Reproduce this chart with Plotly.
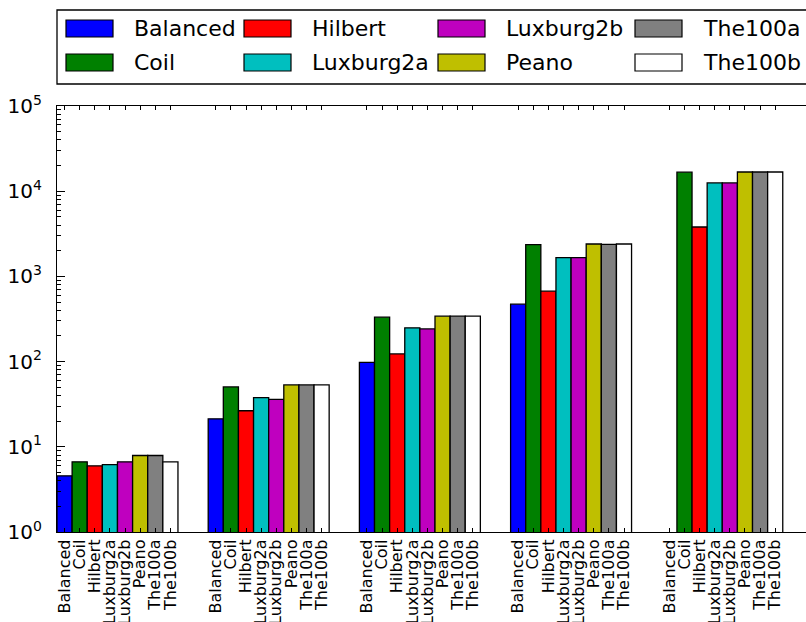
import plotly.graph_objects as go

series = ["Balanced", "Coil", "Hilbert", "Luxburg2a", "Luxburg2b", "Peano", "The100a", "The100b"]
colors = ["#0000ff", "#008000", "#ff0000", "#00bfbf", "#bf00bf", "#bfbf00", "#808080", "#ffffff"]
groups = [0, 1, 2, 3, 4]

values = {
    "Balanced":  [4.56, 21.3, 98, 472, None],
    "Coil":      [6.66, 50.4, 332, 2360, 16700],
    "Hilbert":   [5.98, 26.5, 123, 671, 3800],
    "Luxburg2a": [6.19, 37.7, 249, 1660, 12500],
    "Luxburg2b": [6.66, 36.1, 242, 1660, 12500],
    "Peano":     [7.9, 53.2, 341, 2400, 16800],
    "The100a":   [7.9, 53.2, 341, 2380, 16800],
    "The100b":   [6.66, 53.2, 341, 2400, 16800],
}

ytick_exps = [0, 1, 2, 3, 4, 5]

bar_w = 0.1
font = "DejaVu Sans"

W, H = 806, 622
L, R, T, B = 57, 0, 106, 90
PW, PH = W - L - R, H - T - B


def px_x(px):
    return (px - L) / PW


def px_y(py):
    return (H - B - py) / PH


fig = go.Figure()
for j, name in enumerate(series):
    xs = [g + j * bar_w + bar_w / 2 for g in groups]
    fig.add_trace(go.Bar(
        x=xs, y=values[name], width=bar_w, name=name, showlegend=False,
        marker=dict(color=colors[j], line=dict(color="black", width=1.3)),
    ))

tickvals = [g + j * bar_w + bar_w / 2 for g in groups for j in range(len(series))]
ticktext = [s for g in groups for s in series]

minor_vals = [m * 10 ** e for e in range(5) for m in range(2, 10)]

# legend (drawn as a framed 4-column, 2-row key like the original)
shapes = [dict(type="rect", xref="paper", yref="paper",
               x0=px_x(57), x1=px_x(815), y0=px_y(84), y1=px_y(10),
               line=dict(color="black", width=1.3), fillcolor="white", layer="above")]
annotations = []
col_x = [66, 244, 438, 635]
row_y = [20, 54]
sw_w, sw_h = 47, 17
for k, name in enumerate(series):
    cx = col_x[k // 2]
    ry = row_y[k % 2]
    shapes.append(dict(type="rect", xref="paper", yref="paper",
                       x0=px_x(cx), x1=px_x(cx + sw_w), y0=px_y(ry + sw_h), y1=px_y(ry),
                       line=dict(color="black", width=1.2), fillcolor=colors[k], layer="above"))
    annotations.append(dict(xref="paper", yref="paper", x=px_x(cx + 66), y=px_y(ry + sw_h / 2 + 0.5),
                            text=name, showarrow=False, xanchor="left", yanchor="middle",
                            font=dict(size=22, family=font, color="black")))

fig.update_layout(
    width=W, height=H,
    margin=dict(l=L, r=R, t=T, b=B, autoexpand=False),
    plot_bgcolor="white", paper_bgcolor="white",
    barmode="overlay",
    font=dict(family=font, color="black"),
    showlegend=False,
    shapes=shapes,
    annotations=annotations,
    xaxis=dict(
        range=[0, PW / 151.2], tickmode="array", tickvals=tickvals, ticktext=ticktext,
        tickangle=-90, ticks="inside", ticklen=4, tickcolor="black",
        showline=True, linecolor="black", linewidth=1.3, mirror="ticks",
        showgrid=False, zeroline=False, automargin=False,
        tickfont=dict(size=16, family=font, color="black"),
    ),
    yaxis=dict(
        type="log", range=[0, 5], tickmode="array",
        tickvals=[10 ** e for e in ytick_exps],
        ticktext=["10<sup>%d</sup>" % e for e in ytick_exps],
        ticks="inside", ticklen=8, tickcolor="black",
        minor=dict(ticks="inside", ticklen=4, tickcolor="black", tickmode="array", tickvals=minor_vals, showgrid=False),
        showline=True, linecolor="black", linewidth=1.3,
        showgrid=False, zeroline=False, automargin=False,
        ticklabelstandoff=10,
        tickfont=dict(size=20, family=font, color="black"),
    ),
)

fig.write_html("out.html")
